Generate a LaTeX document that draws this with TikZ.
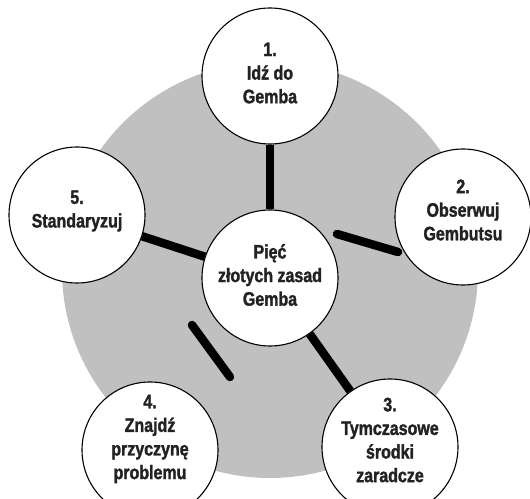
\documentclass[tikz,border=0pt]{standalone}
\usepackage{fontspec}
\setmainfont{Liberation Sans}[FakeStretch=0.82, BoldFont={Liberation Sans Bold}, BoldFeatures={FakeStretch=0.82, FakeBold=1.6}]
\usepackage{tikz}
\usetikzlibrary{positioning,calc}

\definecolor{discgrey}{HTML}{C0C0C0}
\definecolor{inkgrey}{HTML}{222222}

\begin{document}
\begin{tikzpicture}[
        x=1pt, y=1pt,
        circ/.style={circle, draw=black, line width=1.1pt, fill=white, minimum size=136pt, inner sep=0pt},
        txt/.style={align=center, inner sep=0pt, text=inkgrey, font=\fontsize{19.5}{23.6}\selectfont\bfseries},
        bar/.style={line width=8.5pt, black},
        >=latex
      ]
      \useasboundingbox (0,0) rectangle (530,498);
      \fill[discgrey] (270,228) circle (208pt);
      % circles
      \node[circ] (mid) at (270,220) {};
      \node[circ] (p1)  at (270,422) {};
      \node[circ] (p2)  at (463,281) {};
      \node[circ] (p3)  at (390,51)  {};
      \node[circ] (p4)  at (150,48)  {};
      \node[circ] (p5)  at (77,283)  {};
      % texts
      \node[txt] (midtxt) at ([yshift=3]mid) {Pięć\\złotych zasad\\Gemba};
      \node[txt] (p1txt)  at ([yshift=3]p1)  {1.\\Idź do\\Gemba};
      \node[txt] (p2txt)  at ([yshift=7]p2)  {2.\\Obserwuj\\Gembutsu};
      \node[txt] (p3txt)  at ([yshift=7]p3)  {3.\\Tymczasowe\\środki\\zaradcze};
      \node[txt] (p4txt)  at ([yshift=11]p4) {4.\\Znajdź\\przyczynę\\problemu};
      \node[txt] (p5txt)  at ([yshift=4]p5)  {5.\\Standaryzuj};
      % spokes
      \draw[bar] (p1) -- (mid);
      \draw[bar] (p3) -- (mid);
      \draw[bar] (p5) -- (mid);
      % loose bars
      \coordinate (b2a) at (337,264);
      \coordinate (b2b) at (398,246);
      \coordinate (b4a) at (192,173);
      \coordinate (b4b) at (230,121);
      \draw[bar, line cap=round] (b2a) -- (b2b);
      \draw[bar, line cap=round] (b4a) -- (b4b);
    \end{tikzpicture}
\end{document}
